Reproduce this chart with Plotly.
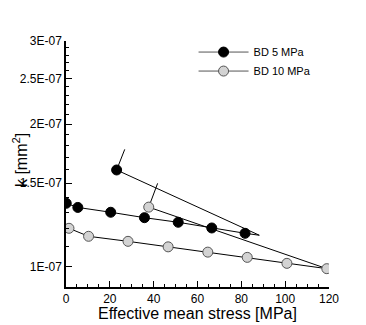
import plotly.graph_objects as go

# BD 5 MPa path (loading then unloading); marker flag per point
bd5_x = [0.1, 5.4, 20.4, 35.8, 51.2, 66.5, 81.7, 88.2, 23.1, 26.8]
bd5_k = [1.36e-7, 1.333e-7, 1.302e-7, 1.268e-7, 1.240e-7, 1.206e-7, 1.175e-7, 1.164e-7, 1.600e-7, 1.769e-7]
bd5_mark = [1, 1, 1, 1, 1, 1, 1, 0, 1, 0]

bd10_x = [1.35, 10.3, 28.3, 46.6, 64.7, 82.7, 100.8, 119.0, 37.75, 41.8]
bd10_k = [1.204e-7, 1.158e-7, 1.130e-7, 1.100e-7, 1.072e-7, 1.045e-7, 1.015e-7, 0.989e-7, 1.335e-7, 1.499e-7]
bd10_mark = [1, 1, 1, 1, 1, 1, 1, 1, 1, 0]

y_tickvals = [1e-7, 1.5e-7, 2e-7, 2.5e-7, 3e-7]
y_ticktext = ["1E-07", "1.5E-07", "2E-07", "2.5E-07", "3E-07"]
y_minor = [v * 1e-8 for v in range(10, 31) if v % 5 != 0]
x_tickvals = [0, 20, 40, 60, 80, 100, 120]

series = [
    ("BD 5 MPa", bd5_x, bd5_k, bd5_mark, "black", "black"),
    ("BD 10 MPa", bd10_x, bd10_k, bd10_mark, "#d3d3d3", "#555555"),
]

fig = go.Figure()
for name, xs, ks, mk, fill, edge in series:
    fig.add_trace(go.Scatter(x=xs, y=ks, mode="lines", line=dict(color="black", width=1),
                             showlegend=False, hoverinfo="skip"))
    mx = [x for x, m in zip(xs, mk) if m]
    my = [k for k, m in zip(ks, mk) if m]
    fig.add_trace(go.Scatter(x=mx, y=my, mode="markers",
                             marker=dict(size=10, color=fill, line=dict(color=edge, width=1)),
                             showlegend=False))
    fig.add_trace(go.Scatter(x=[None], y=[None], mode="lines+markers", name=name,
                             line=dict(color="#555555", width=1),
                             marker=dict(size=10, color=fill, line=dict(color=edge, width=1))))

fig.update_layout(
    width=358, height=317,
    margin=dict(l=54, r=37, t=33, b=38),
    paper_bgcolor="white", plot_bgcolor="white",
    font=dict(family="Liberation Sans, Arial, sans-serif", color="black", size=12),
    legend=dict(x=0.485, y=1.014, xanchor="left", yanchor="top", bgcolor="rgba(0,0,0,0)",
                font=dict(size=11), itemwidth=50, tracegroupgap=0),
    xaxis=dict(range=[0, 120], tickvals=x_tickvals, showline=True, linecolor="black", linewidth=1.5,
               ticks="inside", ticklen=6, tickcolor="black", showgrid=False, zeroline=False,
               minor=dict(tickvals=[v for v in range(5, 120, 5) if v % 20 != 0], ticks="inside",
                          ticklen=3, tickcolor="black", showgrid=False),
               tickfont=dict(size=12)),
    yaxis=dict(type="log", range=[-7.0436, -6.5229], tickvals=y_tickvals, ticktext=y_ticktext,
               showline=True, linecolor="black", linewidth=1.5, ticks="inside", ticklen=6,
               tickcolor="black", showgrid=False, zeroline=False,
               minor=dict(tickvals=y_minor, ticks="inside", ticklen=3, tickcolor="black", showgrid=False),
               tickfont=dict(size=12)),
    annotations=[
        dict(text="Effective mean stress [MPa]", xref="paper", yref="paper", x=0.5, y=-0.106,
             xanchor="center", yanchor="middle", showarrow=False, font=dict(size=16)),
        dict(text="k [mm<sup>2</sup>]", xref="paper", yref="paper", x=-0.175, y=0.516,
             xanchor="center", yanchor="middle", textangle=-90, showarrow=False, font=dict(size=16)),
    ],
)
fig.write_html("out.html")
